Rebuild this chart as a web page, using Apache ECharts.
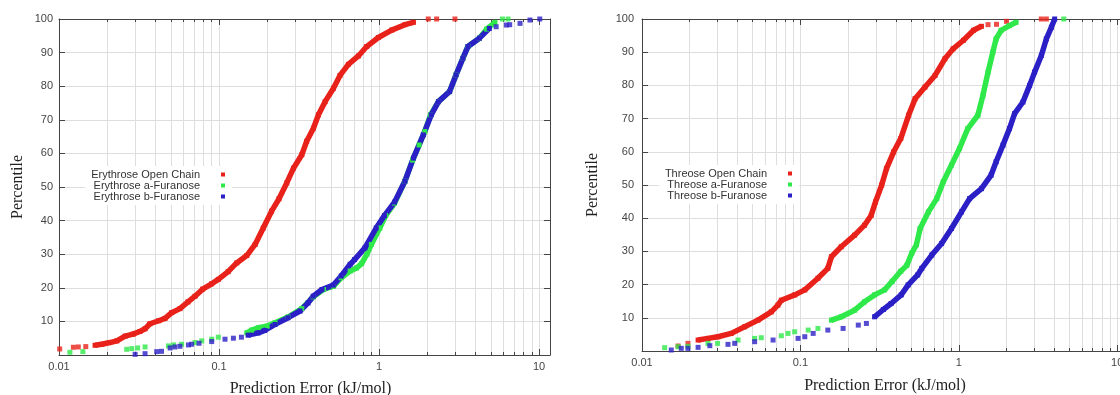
<!DOCTYPE html>
<html><head><meta charset="utf-8">
<script src="https://cdn.jsdelivr.net/npm/echarts@6/dist/echarts.min.js"></script>
<style>html,body{margin:0;padding:0;background:#fff}#c{width:1120px;height:395px}</style>
</head><body><div id="c"></div>
<script>
// ---- tick values ----
const xMajorTicks = [0.01, 0.1, 1, 10];
const xMinorTicks = [0.02,0.03,0.04,0.05,0.06,0.07,0.08,0.09,0.2,0.3,0.4,0.5,0.6,0.7,0.8,0.9,2,3,4,5,6,7,8,9];
const xTitle = 'Prediction Error (kJ/mol)';
const yTitle = 'Percentile';

// ---- names ----
const eryNames = ['Erythrose Open Chain', 'Erythrose a-Furanose', 'Erythrose b-Furanose'];
const threNames = ['Threose Open Chain', 'Threose a-Furanose', 'Threose b-Furanose'];

// ---- Erythrose (left) : [error, percentile] ----
const eryOpenDots = [[0.0101,1.8],[0.0123,2.3],[0.0132,2.4],[0.0147,2.5],[2.03,100],[2.29,100],[2.98,100]];
const eryOpenLine = [[0.0168,2.9],[0.0185,3.2],[0.0208,3.7],[0.0230,4.2],[0.0259,5.6],[0.0290,6.2],[0.0320,7.0],[0.0345,7.8],[0.0370,9.3],[0.042,10.2],[0.046,10.9],[0.0506,12.6],[0.0570,13.8],[0.064,15.8],[0.0708,17.5],[0.0790,19.6],[0.090,21.2],[0.099,22.5],[0.114,24.8],[0.129,27.4],[0.149,29.6],[0.168,32.9],[0.189,37.8],[0.213,42.8],[0.237,46.5],[0.265,51.2],[0.292,55.6],[0.329,59.6],[0.353,63.6],[0.389,67.5],[0.418,71.5],[0.46,75.4],[0.519,79.4],[0.57,83.2],[0.643,86.5],[0.743,89.0],[0.837,91.8],[0.99,94.5],[1.2,96.7],[1.45,98.3],[1.64,99]];
const eryAlphaDots = [[0.0117,0.8],[0.0141,1.0],[0.0265,1.7],[0.0285,1.9],[0.031,2.1],[0.0345,2.4],[0.0483,2.7],[0.052,3.0],[0.0584,3.2],[0.0708,3.7],[0.078,4.2],[0.090,4.7],[0.099,5.3],[5.9,100],[6.4,100]];
const eryAlphaLine = [[0.149,6.6],[0.160,7.4],[0.176,8.1],[0.200,8.6],[0.224,9.6],[0.270,11.3],[0.329,13.8],[0.388,17.3],[0.45,19.5],[0.52,20.5],[0.58,23.0],[0.66,25.0],[0.724,25.9],[0.778,27.2],[0.84,30.0],[0.895,32.9],[1.01,37.8],[1.10,41.5],[1.25,45.2],[1.45,51.7],[1.62,58.0],[1.78,62.5],[1.93,66.5],[2.10,71.5],[2.35,75.4],[2.76,78.4],[3.03,83.4],[3.34,88.3],[3.59,91.8],[4.24,94.3],[4.7,97.0],[5.3,99.0]];
const eryBetaDots = [[0.0299,0.2],[0.0345,0.4],[0.0408,1.0],[0.0437,1.1],[0.0495,2.1],[0.053,2.4],[0.057,2.6],[0.0644,3.0],[0.0674,3.2],[0.075,3.5],[0.090,4.0],[0.109,4.7],[0.123,5.0],[0.138,5.3],[5.39,97.7],[6.24,98.2],[6.55,98.3],[7.6,98.7],[8.77,99.7],[10.1,100]];
const eryBetaLine = [[0.152,5.9],[0.176,6.6],[0.193,7.3],[0.224,9.1],[0.27,11.1],[0.321,13.1],[0.36,15.5],[0.388,17.5],[0.44,19.5],[0.518,20.8],[0.58,23.5],[0.66,27.0],[0.703,28.4],[0.816,31.9],[0.96,37.8],[1.08,41.5],[1.25,45.5],[1.45,51.7],[1.64,58.6],[1.89,65.5],[2.12,71.5],[2.35,75.4],[2.76,78.4],[3.03,83.4],[3.34,88.3],[3.59,91.8],[4.24,94.3],[4.89,97.2]];

// ---- Threose (right) ----
const threOpenDots = [[0.0169,1.5],[0.0195,2.3],[1.53,98.3],[1.73,98.4],[2.0,99.3],[3.32,100],[3.57,100]];
const threOpenLine = [[0.0226,3.3],[0.0261,3.8],[0.0302,4.3],[0.0366,5.3],[0.0445,7.3],[0.054,9.3],[0.0655,11.8],[0.0721,13.8],[0.0758,15.3],[0.0922,16.9],[0.1066,18.4],[0.129,21.9],[0.149,24.9],[0.157,28.4],[0.181,31.4],[0.22,34.9],[0.254,37.9],[0.28,40.9],[0.298,44.9],[0.326,50.0],[0.35,55.0],[0.388,60.0],[0.43,64.0],[0.482,71.0],[0.53,76.0],[0.612,79.5],[0.708,83.0],[0.817,88.0],[0.92,91.0],[1.07,93.6],[1.24,96.6],[1.39,97.8]];
const threAlphaDots = [[0.0139,1.0],[0.0169,1.3],[0.0195,1.4],[0.0261,2.3],[0.030,2.3],[0.0404,3.3],[0.0514,3.8],[0.0566,4.0],[0.0758,4.6],[0.0835,5.3],[0.092,5.8],[0.112,6.3],[0.129,6.8],[4.6,100]];
const threAlphaLine = [[0.157,9.3],[0.181,10.3],[0.22,12.3],[0.254,14.8],[0.294,16.9],[0.34,18.4],[0.38,21.0],[0.43,24.0],[0.47,25.8],[0.505,29.5],[0.54,32.0],[0.57,36.9],[0.643,41.9],[0.726,45.9],[0.798,51.0],[0.899,56.0],[1.01,61.0],[1.14,67.0],[1.32,71.0],[1.42,77.0],[1.53,84.0],[1.64,90.0],[1.72,94.0],[1.85,96.6],[2.09,98.0],[2.3,99.0]];
const threBetaDots = [[0.0153,0.3],[0.0177,0.8],[0.0195,0.8],[0.0226,1.1],[0.0268,1.6],[0.0349,2.0],[0.0385,2.3],[0.0514,2.8],[0.0672,3.3],[0.0967,3.8],[0.1066,4.3],[0.1204,5.3],[0.149,6.3],[0.186,6.8],[0.232,7.8],[0.261,8.3]];
const threBetaLine = [[0.294,10.3],[0.334,12.5],[0.374,14.3],[0.433,16.9],[0.479,19.9],[0.55,22.9],[0.584,24.9],[0.675,28.9],[0.779,32.4],[0.899,36.9],[1.04,41.9],[1.17,45.9],[1.39,48.9],[1.6,53.0],[1.72,57.0],[1.9,62.0],[2.09,67.0],[2.25,71.5],[2.54,75.0],[2.8,80.0],[3.01,84.0],[3.32,89.0],[3.57,94.0],[3.84,97.5],[4.03,100]];

const colors = ['#e8221a', '#2fe84a', '#2b1fc6'];
const X_MIN = 0.01, X_MAX = 11.7;
const AX = '#444', GRIDC = '#dedede';
const sans = 'Liberation Sans', serif = 'Liberation Serif';

function xAxes(g, labelMargin, titlePad, titleGap) {
  const base = {type: 'log', logBase: 10, gridIndex: g, min: X_MIN, max: X_MAX};
  return [
    Object.assign({}, base, {position: 'bottom',
      axisLine: {show: true, onZero: false, lineStyle: {color: AX}},
      axisTick: {show: true, inside: true, length: 6, customValues: xMajorTicks, lineStyle: {color: AX}},
      axisLabel: {show: true, customValues: xMajorTicks, margin: labelMargin, color: '#444', fontFamily: sans, fontSize: 11,
        formatter: v => String(Number((+v).toPrecision(6)))},
      splitLine: {show: true, lineStyle: {color: GRIDC, width: 1}},
      name: xTitle, nameLocation: 'middle', nameGap: titleGap,
      nameTextStyle: {fontFamily: serif, fontSize: 16, color: '#222', padding: [0, 0, 0, titlePad]}}),
    Object.assign({}, base, {position: 'top',
      axisLine: {show: true, onZero: false, lineStyle: {color: AX}},
      axisTick: {show: true, inside: true, length: 6, customValues: xMajorTicks, lineStyle: {color: AX}},
      axisLabel: {show: false}, splitLine: {show: false}}),
    Object.assign({}, base, {position: 'bottom',
      axisLine: {show: false, onZero: false},
      axisTick: {show: true, inside: true, length: 3, customValues: xMinorTicks, lineStyle: {color: AX}},
      axisLabel: {show: false},
      splitLine: {show: true, lineStyle: {color: GRIDC, width: 1}}}),
    Object.assign({}, base, {position: 'top',
      axisLine: {show: false, onZero: false},
      axisTick: {show: true, inside: true, length: 3, customValues: xMinorTicks, lineStyle: {color: AX}},
      axisLabel: {show: false}, splitLine: {show: false}})
  ];
}
function yAxes(g, labelMargin, titleGap) {
  const base = {type: 'value', gridIndex: g, min: 0, max: 100, interval: 10};
  return [
    Object.assign({}, base, {position: 'left',
      axisLine: {show: true, onZero: false, lineStyle: {color: AX}},
      axisTick: {show: true, inside: true, length: 6, lineStyle: {color: AX}},
      axisLabel: {show: true, showMinLabel: false, margin: labelMargin, color: '#444', fontFamily: sans, fontSize: 11},
      splitLine: {show: true, lineStyle: {color: GRIDC, width: 1}},
      name: yTitle, nameLocation: 'middle', nameGap: titleGap,
      nameTextStyle: {fontFamily: serif, fontSize: 16, color: '#222'}}),
    Object.assign({}, base, {position: 'right',
      axisLine: {show: true, onZero: false, lineStyle: {color: AX}},
      axisTick: {show: true, inside: true, length: 6, lineStyle: {color: AX}},
      axisLabel: {show: false}, splitLine: {show: false}})
  ];
}

function curve(name, color, lineData, dotData, xi, yi) {
  return [
    {name: name, type: 'line', xAxisIndex: xi, yAxisIndex: yi, data: lineData,
     symbol: 'rect', symbolSize: 5, showSymbol: true, showAllSymbol: true, smooth: false,
     lineStyle: {color: color, width: 5.5, join: 'round'}, itemStyle: {color: color}, animation: false, z: 3},
    {name: name, type: 'scatter', xAxisIndex: xi, yAxisIndex: yi, data: dotData,
     symbol: 'rect', symbolSize: 5, itemStyle: {color: color}, animation: false, z: 3}
  ];
}

function legend(names, right, top) {
  return {
    data: names.map(n => ({name: n, icon: 'rect'})),
    orient: 'vertical', align: 'right', right: right, top: top,
    itemWidth: 4, itemHeight: 4, itemGap: 0, selectedMode: false,
    backgroundColor: '#fff', padding: [3, 7, 3, 6],
    textStyle: {fontFamily: sans, fontSize: 11, color: '#333', lineHeight: 11, padding: [0, 16, 0, 0]}
  };
}

const series = [].concat(
  curve(eryNames[0], colors[0], eryOpenLine, eryOpenDots, 0, 0),
  curve(eryNames[1], colors[1], eryAlphaLine, eryAlphaDots, 0, 0),
  curve(eryNames[2], colors[2], eryBetaLine, eryBetaDots, 0, 0),
  curve(threNames[0], colors[0], threOpenLine, threOpenDots, 4, 2),
  curve(threNames[1], colors[1], threAlphaLine, threAlphaDots, 4, 2),
  curve(threNames[2], colors[2], threBetaLine, threBetaDots, 4, 2)
);

const chart = echarts.init(document.getElementById('c'), null, {renderer: 'canvas'});
chart.setOption({
  backgroundColor: '#fff',
  animation: false,
  grid: [
    {left: 59, top: 19, width: 491, height: 336, containLabel: false, outerBoundsMode: 'none'},
    {left: 642, top: 19, width: 486, height: 332, containLabel: false, outerBoundsMode: 'none'}
  ],
  xAxis: [].concat(xAxes(0, 6, 12, 26), xAxes(1, 6, 0, 27)),
  yAxis: [].concat(yAxes(0, 6, 33), yAxes(1, 8, 41)),
  legend: [legend(eryNames, 888, 166), legend(threNames, 321, 165)],
  series: series
});
</script>
</body></html>
